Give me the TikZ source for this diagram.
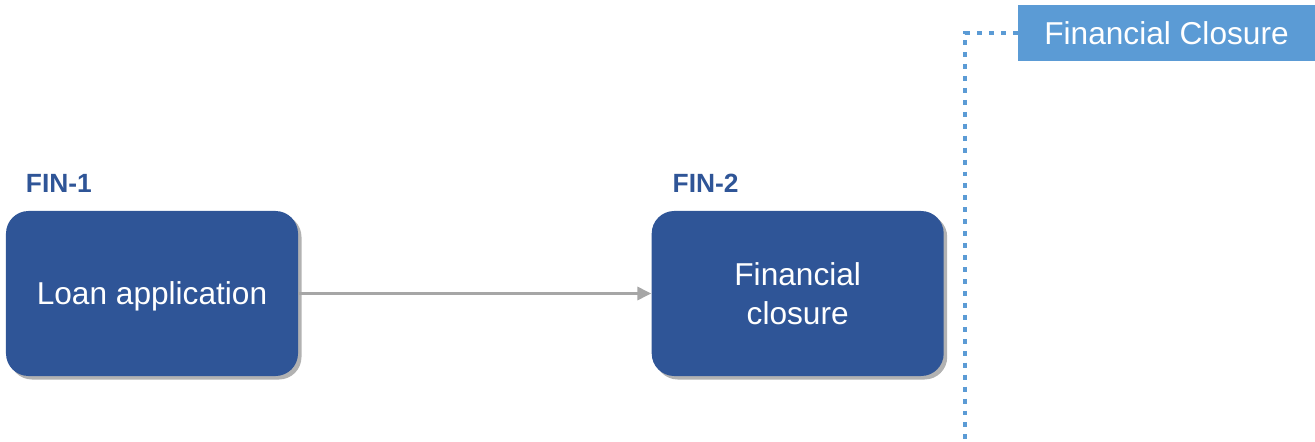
\documentclass[tikz,border=0pt]{standalone}
\usepackage{fontspec}
\setmainfont{Liberation Sans}
\usepackage{tikz}
\usetikzlibrary{positioning,arrows.meta,shadows}
\definecolor{findark}{HTML}{2F5597}
\definecolor{finlight}{HTML}{5B9BD5}
\definecolor{fingray}{HTML}{A6A6A6}

\begin{document}
\begin{tikzpicture}[step node/.style={rectangle,rounded corners=0.45cm,fill=findark,text=white,minimum width=5.84cm,minimum height=3.3cm,align=center,text depth=0pt,font=\fontsize{18}{22}\selectfont,drop shadow={shadow xshift=0.07cm,shadow yshift=-0.07cm,opacity=0.3,fill=black}},
    id label/.style={anchor=base west,inner sep=0pt,text=findark,font=\fontsize{15}{18}\selectfont\bfseries},
    phase tag/.style={rectangle,fill=finlight,text=white,minimum width=5.94cm,minimum height=1.12cm,inner sep=0pt,font=\fontsize{18}{22}\selectfont}]
    \useasboundingbox (0,0) rectangle (26.3,-8.84);
    \node[step node] (loan) at (3.04,-5.87) {Loan application};
    \node[step node] (closure) [right = 7.06cm of loan] {Financial\\closure};
    \node[id label] (fin1) at ([xshift=0.4cm,yshift=0.36cm]loan.north west) {FIN-1};
    \node[id label] (fin2) at ([xshift=0.42cm,yshift=0.36cm]closure.north west) {FIN-2};
    \node[phase tag] (phase) at (23.33,-0.66) {Financial Closure};
    \coordinate (corner) at (19.3,-0.66);
    \coordinate (bottom) at (19.3,-8.9);

    \path[draw,fingray,line width=1.8pt,-{Triangle[length=0.28cm,width=0.26cm]}]
    (loan) edge node {} (closure)
    ;
    \draw[finlight,line width=2.8pt,dash pattern=on 2.8pt off 4pt] (phase.west) -- (corner) -- (bottom);
\end{tikzpicture}
\end{document}
